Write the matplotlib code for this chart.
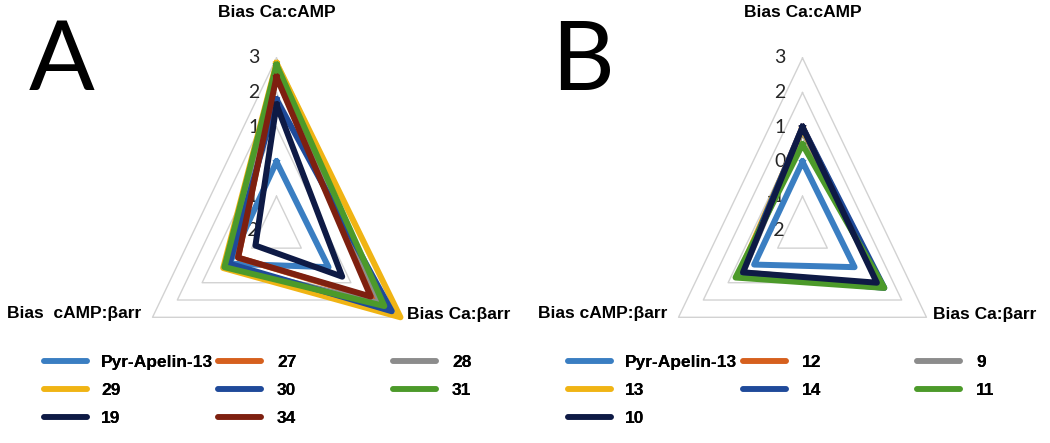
"""
Two triangular radar charts of signalling bias (panels A and B).
"""

import matplotlib

matplotlib.use("Agg")
import matplotlib.pyplot as plt  # noqa: E402
import numpy as np  # noqa: E402
from matplotlib.lines import Line2D  # noqa: E402

# radial scale
R_MIN, R_MAX = -2, 3
TICKS = [3, 2, 1, 0, -1, -2]

# panel A
A_LABELS = ["Bias Ca:cAMP", "Bias Ca:βarr", "Bias  cAMP:βarr"]
A_NAMES = ["Pyr-Apelin-13", "27", "28", "29", "30", "31", "19", "34"]
A_COLORS = ["#3A7EC2", "#D6601E", "#8C8C8C", "#F0B414",
            "#1F4A9A", "#4C9A2A", "#0E1A45", "#7E2010"]
A_CA_CAMP = [0.0, 2.5, 2.75, 2.85, 1.8, 2.8, 1.65, 2.45]
A_CA_BARR = [0.1, 1.9, 2.2, 3.0, 2.65, 2.35, 0.65, 1.8]
A_CAMP_BARR = [-0.1, -0.45, 0.05, 0.15, -0.1, 0.1, -1.15, -0.45]

# panel B
B_LABELS = ["Bias Ca:cAMP", "Bias Ca:βarr", "Bias cAMP:βarr"]
B_NAMES = ["Pyr-Apelin-13", "12", "9", "13", "14", "11", "10"]
B_COLORS = ["#3A7EC2", "#D6601E", "#8C8C8C", "#F0B414",
            "#1F4A9A", "#4C9A2A", "#0E1A45"]
B_CA_CAMP = [0.0, 1.0, 0.9, 0.95, 1.0, 0.5, 1.0]
B_CA_BARR = [0.1, 1.2, 1.1, 1.25, 1.3, 1.3, 1.0]
B_CAMP_BARR = [-0.05, 0.5, 0.4, 0.6, 0.5, 0.7, 0.4]

W, H = 1050, 443
THETA = np.radians([0, 120, 240, 0])


def _radar(ax, labels, names, colors, top, right, left):
    ax.set_xlim(-6.2, 6.2)
    ax.set_ylim(-3.2, 6.2)
    ax.axis("off")

    for lvl in range(R_MIN + 1, R_MAX + 1):
        r = lvl - R_MIN
        ax.plot(r * np.sin(THETA), r * np.cos(THETA), color="#d2d2d2", lw=1.0, zorder=1)

    for t in TICKS:
        ax.annotate(str(t), xy=(0, t - R_MIN), xytext=(-12, 0), textcoords="offset points",
                    ha="right", va="center", fontsize=14, family="Lato",
                    color="#262626", zorder=1.5)

    for i in range(len(names)):
        r = np.array([top[i], right[i], left[i], top[i]]) - R_MIN
        ax.plot(r * np.sin(THETA), r * np.cos(THETA), color=colors[i], lw=4.3,
                solid_joinstyle="round", zorder=2 + i)

    rmax = R_MAX - R_MIN
    vx = rmax * np.sin(THETA[:3])
    vy = rmax * np.cos(THETA[:3])
    bold = dict(fontsize=12.5, fontweight="bold", family="Liberation Sans",
                textcoords="offset points", color="black")
    ax.annotate(labels[0], xy=(vx[0], vy[0]), xytext=(0, 33), ha="center", va="center", **bold)
    ax.annotate(labels[1], xy=(vx[1], vy[1]), xytext=(5, 2), ha="left", va="center", **bold)
    ax.annotate(labels[2], xy=(vx[2], vy[2]), xytext=(-8, 3), ha="right", va="center", **bold)


def _legend(fig, names, colors, col_x):
    # Excel lays the legend out row by row, three entries per row
    handles = [Line2D([], [], color=c, lw=4.0, solid_capstyle="round") for c in colors]
    for col in range(3):
        idx = list(range(col, len(names), 3))
        leg = fig.legend([handles[i] for i in idx], [names[i] for i in idx],
                         loc="upper left", bbox_to_anchor=(col_x[col] / W, 1 - 355 / H),
                         frameon=False, borderpad=0, borderaxespad=0,
                         handlelength=2.5, handletextpad=0.8 if col == 0 else 0.9,
                         labelspacing=0.74,
                         prop=dict(family="Liberation Sans", weight="bold", size=12.5))
        fig.add_artist(leg)


def main():
    fig = plt.figure(figsize=(W / 100, H / 100), dpi=100)

    ax_a = fig.add_axes([99 / W, 1 - 341.5 / H, 355 / W, 325 / H])
    _radar(ax_a, A_LABELS, A_NAMES, A_COLORS, A_CA_CAMP, A_CA_BARR, A_CAMP_BARR)
    ax_b = fig.add_axes([625 / W, 1 - 341.5 / H, 355 / W, 325 / H])
    _radar(ax_b, B_LABELS, B_NAMES, B_COLORS, B_CA_CAMP, B_CA_BARR, B_CAMP_BARR)

    fig.text(29 / W, 1 - 63 / H, "A", fontsize=70, family="Lato", va="center", ha="left")
    fig.text(551 / W, 1 - 63 / H, "B", fontsize=70, family="Lato", va="center", ha="left")

    _legend(fig, A_NAMES, A_COLORS, [44, 218, 393])
    _legend(fig, B_NAMES, B_COLORS, [568, 743, 917])

    fig.savefig("out.png", dpi=100)
    plt.close(fig)


if __name__ == "__main__":
    main()
